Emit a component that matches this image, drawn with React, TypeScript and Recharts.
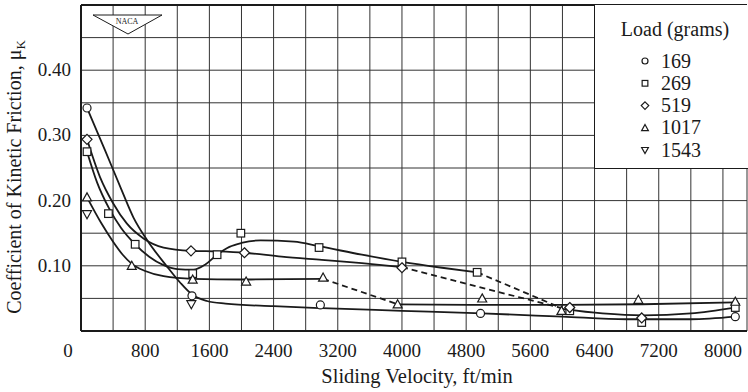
import React from 'react';
import {
  ComposedChart,
  Line,
  Scatter,
  XAxis,
  YAxis,
  CartesianGrid,
  Legend,
  ReferenceLine,
  Label,
} from 'recharts';

const SERIF = '"Liberation Serif", "DejaVu Serif", serif';
const INK = '#1a1a1a';

const LOADS = ['169', '269', '519', '1017', '1543'];
const MARKERS = ['circle', 'square', 'diamond', 'triangle', 'triangleDown'];

// test points, [velocity ft/min, mu_k]
const PTS_169 = [[75, 0.342], [1383, 0.054], [2983, 0.040], [4979, 0.027], [8154, 0.022]];
const PTS_269 = [
  [75, 0.275], [342, 0.180], [675, 0.133], [1392, 0.088], [1696, 0.117], [1992, 0.150],
  [2967, 0.128], [4000, 0.106], [4937, 0.090], [6091, 0.031], [6988, 0.013], [8154, 0.036],
];
const PTS_519 = [[75, 0.294], [1371, 0.123], [2037, 0.120], [4000, 0.097], [6091, 0.036], [6988, 0.020]];
const PTS_1017 = [
  [75, 0.205], [633, 0.100], [1392, 0.079], [2058, 0.076], [3017, 0.082], [3946, 0.041],
  [5000, 0.050], [5988, 0.031], [6946, 0.048], [8154, 0.045],
];
const PTS_1543 = [[75, 0.179], [1375, 0.041]];
const POINTS = [PTS_169, PTS_269, PTS_519, PTS_1017, PTS_1543];

// faired curves as drawn on the original plot
const CURVE_169 = [
  [75, 0.342], [300, 0.277], [500, 0.218], [654, 0.174], [821, 0.140], [1071, 0.099],
  [1237, 0.074], [1383, 0.056], [1571, 0.046], [1800, 0.042], [2400, 0.038], [3000, 0.035],
  [4000, 0.031], [5000, 0.027], [6000, 0.022], [6800, 0.018], [7600, 0.018], [8154, 0.022],
];
const CURVE_269 = [
  [75, 0.275], [200, 0.228], [350, 0.188], [500, 0.158], [675, 0.133], [850, 0.114],
  [1029, 0.101], [1200, 0.095], [1400, 0.094], [1550, 0.102], [1696, 0.117], [1850, 0.129],
  [2000, 0.135], [2237, 0.139], [2654, 0.137], [2967, 0.130], [3500, 0.117], [4000, 0.106],
  [4500, 0.097], [4937, 0.090],
];
const CURVE_269_DASH = [[4937, 0.090], [5990, 0.035]];
const CURVE_269_TAIL = [[5990, 0.034], [6500, 0.027], [7000, 0.024], [7600, 0.027], [8154, 0.036]];
const CURVE_519 = [
  [75, 0.294], [237, 0.236], [400, 0.196], [570, 0.165], [779, 0.142], [1029, 0.128],
  [1371, 0.123], [1700, 0.122], [2037, 0.120], [2500, 0.114], [3000, 0.109], [3500, 0.104],
  [4000, 0.098],
];
const CURVE_519_DASH = [[4000, 0.098], [5990, 0.035]];
const CURVE_1017 = [
  [75, 0.205], [250, 0.166], [400, 0.137], [520, 0.117], [633, 0.103], [800, 0.092],
  [1029, 0.084], [1392, 0.080], [2000, 0.079], [3017, 0.080],
];
const CURVE_1017_DASH = [[3017, 0.080], [3946, 0.041]];
const CURVE_1017_TAIL = [[3946, 0.041], [5000, 0.040], [6000, 0.040], [7000, 0.041], [8154, 0.044]];

const CURVES = [
  { id: 'c169', pts: CURVE_169 },
  { id: 'c269', pts: CURVE_269 },
  { id: 'c269d', pts: CURVE_269_DASH, dashed: true },
  { id: 'c269t', pts: CURVE_269_TAIL },
  { id: 'c519', pts: CURVE_519 },
  { id: 'c519d', pts: CURVE_519_DASH, dashed: true },
  { id: 'c1017', pts: CURVE_1017 },
  { id: 'c1017d', pts: CURVE_1017_DASH, dashed: true },
  { id: 'c1017t', pts: CURVE_1017_TAIL },
];

const X_TICKS = [0, 400, 800, 1200, 1600, 2000, 2400, 2800, 3200, 3600, 4000, 4400, 4800, 5200, 5600, 6000, 6400, 6800, 7200, 7600, 8000];
const X_LABELS = [0, 800, 1600, 2400, 3200, 4000, 4800, 5600, 6400, 7200, 8000];
const Y_TICKS = [0, 0.05, 0.1, 0.15, 0.2, 0.25, 0.3, 0.35, 0.4, 0.45, 0.5];
const Y_LABELS = [0.1, 0.2, 0.3, 0.4];

const toRows = (pts: number[][]) => pts.map(([v, mu]) => ({ v, mu }));

const Marker = ({ kind, cx, cy, k = 1 }: any) => {
  const common = { fill: '#fff', stroke: INK, strokeWidth: 1.2 };
  if (cx == null || cy == null) return null;
  if (kind === 'circle') return <circle cx={cx} cy={cy} r={4 * k} {...common} />;
  if (kind === 'square') {
    const h = 3.8 * k;
    return <rect x={cx - h} y={cy - h} width={2 * h} height={2 * h} {...common} />;
  }
  if (kind === 'diamond') {
    const h = 5 * k;
    return <polygon points={`${cx},${cy - h} ${cx + h},${cy} ${cx},${cy + h} ${cx - h},${cy}`} {...common} />;
  }
  const h = 4.5 * k;
  if (kind === 'triangle') {
    return <polygon points={`${cx},${cy - h} ${cx + h},${cy + h * 0.8} ${cx - h},${cy + h * 0.8}`} {...common} />;
  }
  return <polygon points={`${cx - h},${cy - h * 0.8} ${cx + h},${cy - h * 0.8} ${cx},${cy + h}`} {...common} />;
};

const XTick = ({ x, payload }: any) => {
  const v = payload.value;
  if (!X_LABELS.includes(v)) return <g />;
  return (
    <text x={v === 0 ? x - 13 : x} y={357} textAnchor="middle" fontFamily={SERIF} fontSize={19} fill={INK}>
      {v}
    </text>
  );
};

const YTick = ({ y, payload }: any) => {
  const v = payload.value;
  if (!Y_LABELS.some((l) => Math.abs(l - v) < 1e-6)) return <g />;
  return (
    <text x={71} y={y + 6} textAnchor="end" fontFamily={SERIF} fontSize={19} fill={INK}>
      {v.toFixed(2)}
    </text>
  );
};

const LoadLegend = () => (
  <div
    style={{
      width: 154,
      height: 164,
      background: '#fff',
      borderLeft: `1.5px solid ${INK}`,
      borderBottom: `1.5px solid ${INK}`,
      boxSizing: 'border-box',
    }}
  >
    <svg width={152} height={162} style={{ display: 'block' }}>
      <text x={80} y={31} textAnchor="middle" fontFamily={SERIF} fontSize={20} fill={INK}>
        Load (grams)
      </text>
      {LOADS.map((load, i) => (
        <g key={load}>
          <Marker kind={MARKERS[i]} cx={50} cy={56 + i * 22.3} k={0.75} />
          <text x={66} y={56 + i * 22.3 + 6.5} fontFamily={SERIF} fontSize={20} fill={INK}>
            {load}
          </text>
        </g>
      ))}
    </svg>
  </div>
);

export default function App() {
  return (
    <div style={{ position: 'absolute', left: 0, top: 0, width: 748, height: 392, background: '#fff' }}>
      <ComposedChart width={748} height={392} margin={{ top: 5, right: 1, bottom: 0, left: 0 }}>
        <CartesianGrid stroke="#333" strokeWidth={1} />
        <XAxis
          dataKey="v"
          type="number"
          domain={[0, 8300]}
          ticks={X_TICKS}
          interval={0}
          allowDataOverflow
          height={61}
          tickLine={false}
          axisLine={{ stroke: INK, strokeWidth: 2 }}
          tick={<XTick />}
        >
          <Label
            content={() => (
              <text x={417} y={383} textAnchor="middle" fontFamily={SERIF} fontSize={20.5} fill={INK}>
                Sliding Velocity, ft/min
              </text>
            )}
          />
        </XAxis>
        <YAxis
          dataKey="mu"
          type="number"
          domain={[0, 0.5]}
          ticks={Y_TICKS}
          interval={0}
          width={81}
          tickLine={false}
          axisLine={{ stroke: INK, strokeWidth: 2 }}
          tick={<YTick />}
        >
          <Label
            content={() => (
              <text
                x={21}
                y={177}
                transform="rotate(-90 21 177)"
                textAnchor="middle"
                fontFamily={SERIF}
                fontSize={20}
                fill={INK}
              >
                Coefficient of Kinetic Friction, μ
                <tspan fontSize={13} dy={4}>K</tspan>
              </text>
            )}
          />
        </YAxis>
        <ReferenceLine y={0.5} stroke={INK} strokeWidth={2} />
        {CURVES.map((c) => (
          <Line
            key={c.id}
            data={toRows(c.pts)}
            dataKey="mu"
            type="monotone"
            stroke={INK}
            strokeWidth={1.8}
            strokeDasharray={c.dashed ? '6 4' : undefined}
            dot={false}
            activeDot={false}
            legendType="none"
            isAnimationActive={false}
          />
        ))}
        {POINTS.map((pts, i) => (
          <Scatter
            key={LOADS[i]}
            name={LOADS[i]}
            data={toRows(pts)}
            shape={(p: any) => <Marker kind={MARKERS[i]} cx={p.cx} cy={p.cy} />}
            isAnimationActive={false}
          />
        ))}
        <Legend
          layout="horizontal"
          verticalAlign="middle"
          align="center"
          content={() => <LoadLegend />}
          wrapperStyle={{ left: 594, top: 5, width: 154, height: 164 }}
        />
      </ComposedChart>
      <svg
        width={748}
        height={392}
        style={{ position: 'absolute', left: 0, top: 0, pointerEvents: 'none' }}
      >
        <polygon points="93,15 162,15 128,34" fill="#fff" stroke={INK} strokeWidth={1} />
        <text x={127} y={24} textAnchor="middle" fontFamily={SERIF} fontSize={8} fill={INK}>
          NACA
        </text>
      </svg>
    </div>
  );
}
